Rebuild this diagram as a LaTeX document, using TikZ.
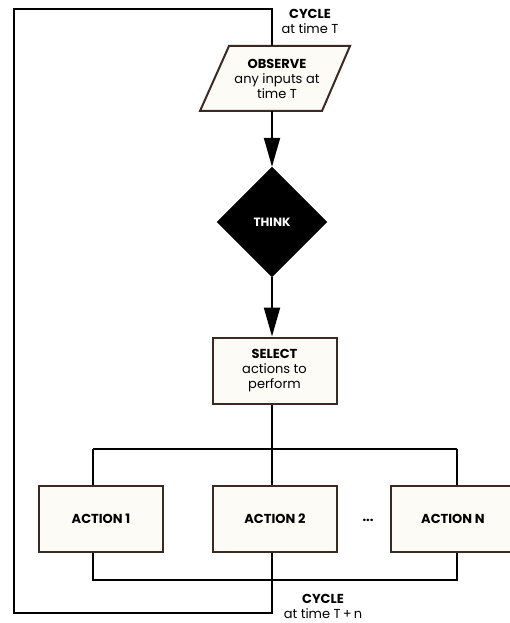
\documentclass[tikz,border=0pt]{standalone}
\usepackage{fontspec}
\setmainfont{Poppins}
\usetikzlibrary{arrows.meta,shapes.geometric}
\definecolor{edge}{HTML}{3A2A22}
\definecolor{cream}{HTML}{FDFBF6}
\begin{document}
\begin{tikzpicture}[x=1pt,y=-1pt,
  wire/.style={line width=2pt,black},
  flow/.style={line width=2pt,black,-{Triangle[length=29pt,width=16pt]}},
  box/.style={draw=edge,fill=cream,line width=2pt,rectangle,minimum width=124pt,minimum height=66pt,inner sep=0pt,align=center,font=\fontsize{13}{15}\selectfont},
  lbl/.style={align=center,font=\fontsize{13}{15}\selectfont,inner sep=0pt}]
\useasboundingbox (0,0) rectangle (510,623);
% observe parallelogram
\coordinate (p1) at (229,46);
\coordinate (p2) at (350,46);
\coordinate (p3) at (322,111);
\coordinate (p4) at (200,111);
\draw[draw=edge,fill=cream,line width=2pt,line join=miter] (p1) -- (p2) -- (p3) -- (p4) -- cycle;
\node[lbl] (obs) at (277,79) {\textbf{OBSERVE}\\any inputs at\\time T};
\coordinate (obstop) at (272,46);
\coordinate (obsbot) at (272,111);
% think diamond
\node[diamond,fill=black,draw=black,minimum width=110pt,minimum height=110pt,inner sep=0pt,text=white,font=\bfseries\fontsize{12}{14}\selectfont] (think) at (272,222) {THINK};
% select
\node[box] (sel) at (274.5,370.5) {\textbf{SELECT}\\actions to\\perform};
% actions
\node[box] (a1) at (101,519) {\textbf{ACTION 1}};
\node[box] (a2) at (275,519) {\textbf{ACTION 2}};
\node[box] (an) at (453,519) {\textbf{ACTION N}};
\node[font=\bfseries\fontsize{13}{14}\selectfont] (dots) at (368,520) {...};
% labels
\node[lbl] (ctop) at (310,21) {\textbf{CYCLE}\\at time T};
\node[lbl] (cbot) at (323,606) {\textbf{CYCLE}\\at time T\,+\,n};
% coordinates
\coordinate (topl) at (14,9);
\coordinate (topr) at (272,9);
\coordinate (botl) at (14,613);
\coordinate (botr) at (272,613);
\coordinate (s1) at (93,449);
\coordinate (s2) at (272,449);
\coordinate (s3) at (457,449);
\coordinate (j1) at (93,580);
\coordinate (j2) at (272,580);
\coordinate (j3) at (457,580);
% connectors
\draw[flow] (obsbot) -- (think.north);
\draw[flow] (think.south) -- (sel.north -| think.south);
\draw[wire] (sel.south -| s2) -- (s2);
\draw[wire] (s1) -- (s3);
\draw[wire] (s1) -- (a1.north -| s1);
\draw[wire] (s2) -- (a2.north -| s2);
\draw[wire] (s3) -- (an.north -| s3);
\draw[wire] (a1.south -| j1) -- (j1) -- (j3) -- (an.south -| j3);
\draw[wire] (a2.south -| j2) -- (j2) -- (botr) -- (botl) -- (topl) -- (topr) -- (obstop);
\end{tikzpicture}
\end{document}
